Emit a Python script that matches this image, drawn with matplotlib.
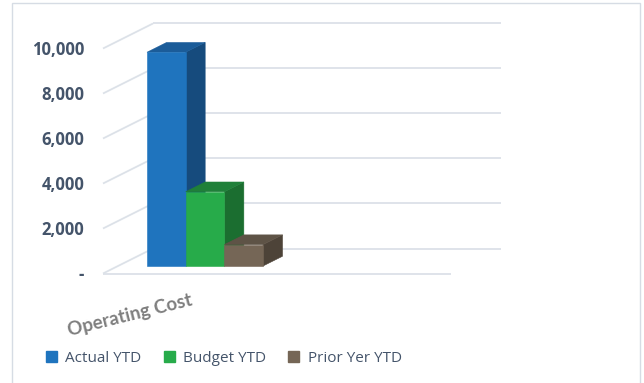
import matplotlib
matplotlib.use("Agg")
import matplotlib.pyplot as plt
from matplotlib.patches import Polygon, Rectangle, Patch
import numpy as np

# chart data
categories = ["Operating Cost", ""]
series = ["Actual YTD", "Budget YTD", "Prior Yer YTD"]
values = [9500, 3300, 950]
y_ticks = [0, 2000, 4000, 6000, 8000, 10000]
y_labels = ["-", "2,000", "4,000", "6,000", "8,000", "10,000"]

FRONT = ["#1F74BE", "#27AB4A", "#756656"]
SIDE = ["#164B7D", "#1B6E30", "#4D4338"]
TOP = ["#1B5C99", "#1F8039", "#5E5346"]

GRID = "#DCE1E8"
TEXT = "#44546A"
CAT = "#7F7F7F"

W, H = 644, 383
DEPTH = np.array([50.0, 25.0])  # display offset of the back wall, px
BAR_D0, BAR_D1 = 0.30, 0.69     # bar depth span as fraction of wall depth

fig = plt.figure(figsize=(W / 100, H / 100), dpi=100)
fig.patch.set_facecolor("white")

ax = fig.add_axes([103 / W, 1 - 273.5 / H, 348 / W, 225 / H])
ax.set_xlim(-0.5, 1.5)
ax.set_ylim(0, 10000)
ax.patch.set_alpha(0)
for s in ax.spines.values():
    s.set_visible(False)


def proj(x, y, d):
    p = ax.transData.transform((x, y)) + d * DEPTH
    return ax.transData.inverted().transform(p)


def line3d(p0, p1, **kw):
    xs, ys = zip(p0, p1)
    ax.plot(xs, ys, clip_on=False, **kw)


x_lo, x_hi = ax.get_xlim()
grid_kw = dict(color=GRID, lw=1.3, solid_capstyle="butt", zorder=1)

# back wall gridlines + left wall diagonals
for v in y_ticks:
    line3d(proj(x_lo, v, 1), proj(x_hi, v, 1), **grid_kw)
    line3d(proj(x_lo, v, 0), proj(x_lo, v, 1), **grid_kw)
# floor front edge
line3d(proj(x_lo, 0, 0), proj(x_hi, 0, 0), **grid_kw)

# 3d bars, clustered in the first category
n = len(series)
group = 2 / 3
bw = group / n
for i, (v, fc, sc, tc) in enumerate(zip(values, FRONT, SIDE, TOP)):
    x0 = 0 - group / 2 + i * bw
    x1 = x0 + bw
    front = [proj(x0, 0, BAR_D0), proj(x1, 0, BAR_D0),
             proj(x1, v, BAR_D0), proj(x0, v, BAR_D0)]
    side = [proj(x1, 0, BAR_D0), proj(x1, 0, BAR_D1),
            proj(x1, v, BAR_D1), proj(x1, v, BAR_D0)]
    top = [proj(x0, v, BAR_D0), proj(x1, v, BAR_D0),
           proj(x1, v, BAR_D1), proj(x0, v, BAR_D1)]
    for pts, c in ((side, sc), (top, tc), (front, fc)):
        ax.add_patch(Polygon(pts, closed=True, fc=c, ec=c, lw=0.4,
                             zorder=3 + i, clip_on=False))

ax.set_yticks(y_ticks, y_labels)
ax.tick_params(axis="y", length=0, pad=13.5)
for t in ax.get_yticklabels():
    t.set_fontfamily("Open Sans")
    t.set_fontweight("bold")
    t.set_fontsize(12)
    t.set_color(TEXT)

ax.set_xticks([0, 1], categories)
ax.tick_params(axis="x", length=0, pad=13)
for t in ax.get_xticklabels():
    t.set_fontfamily("Lato")
    t.set_fontweight("bold")
    t.set_fontsize(13.5)
    t.set_color(CAT)
    t.set_rotation(14)
    t.set_ha("right")
    t.set_rotation_mode("anchor")
    t.set_x(-0.01)

handles = [Patch(facecolor=c, edgecolor=c, label=s) for s, c in zip(series, FRONT)]
fig.legend(handles=handles, loc="center left", bbox_to_anchor=(46 / W, 1 - 358 / H),
           ncol=3, frameon=False, handlelength=0.72, handleheight=0.72,
           handletextpad=0.55, columnspacing=1.45, borderpad=0, borderaxespad=0,
           labelcolor=TEXT, prop={"family": "Open Sans", "size": 11})

# chart area border
fig.patches.append(Rectangle((12 / W, -0.05), 628 / W, 1.05 - 3.5 / H,
                             transform=fig.transFigure, fill=False,
                             ec="#D6DCE4", lw=1.0))

fig.savefig("out.png", dpi=100)
